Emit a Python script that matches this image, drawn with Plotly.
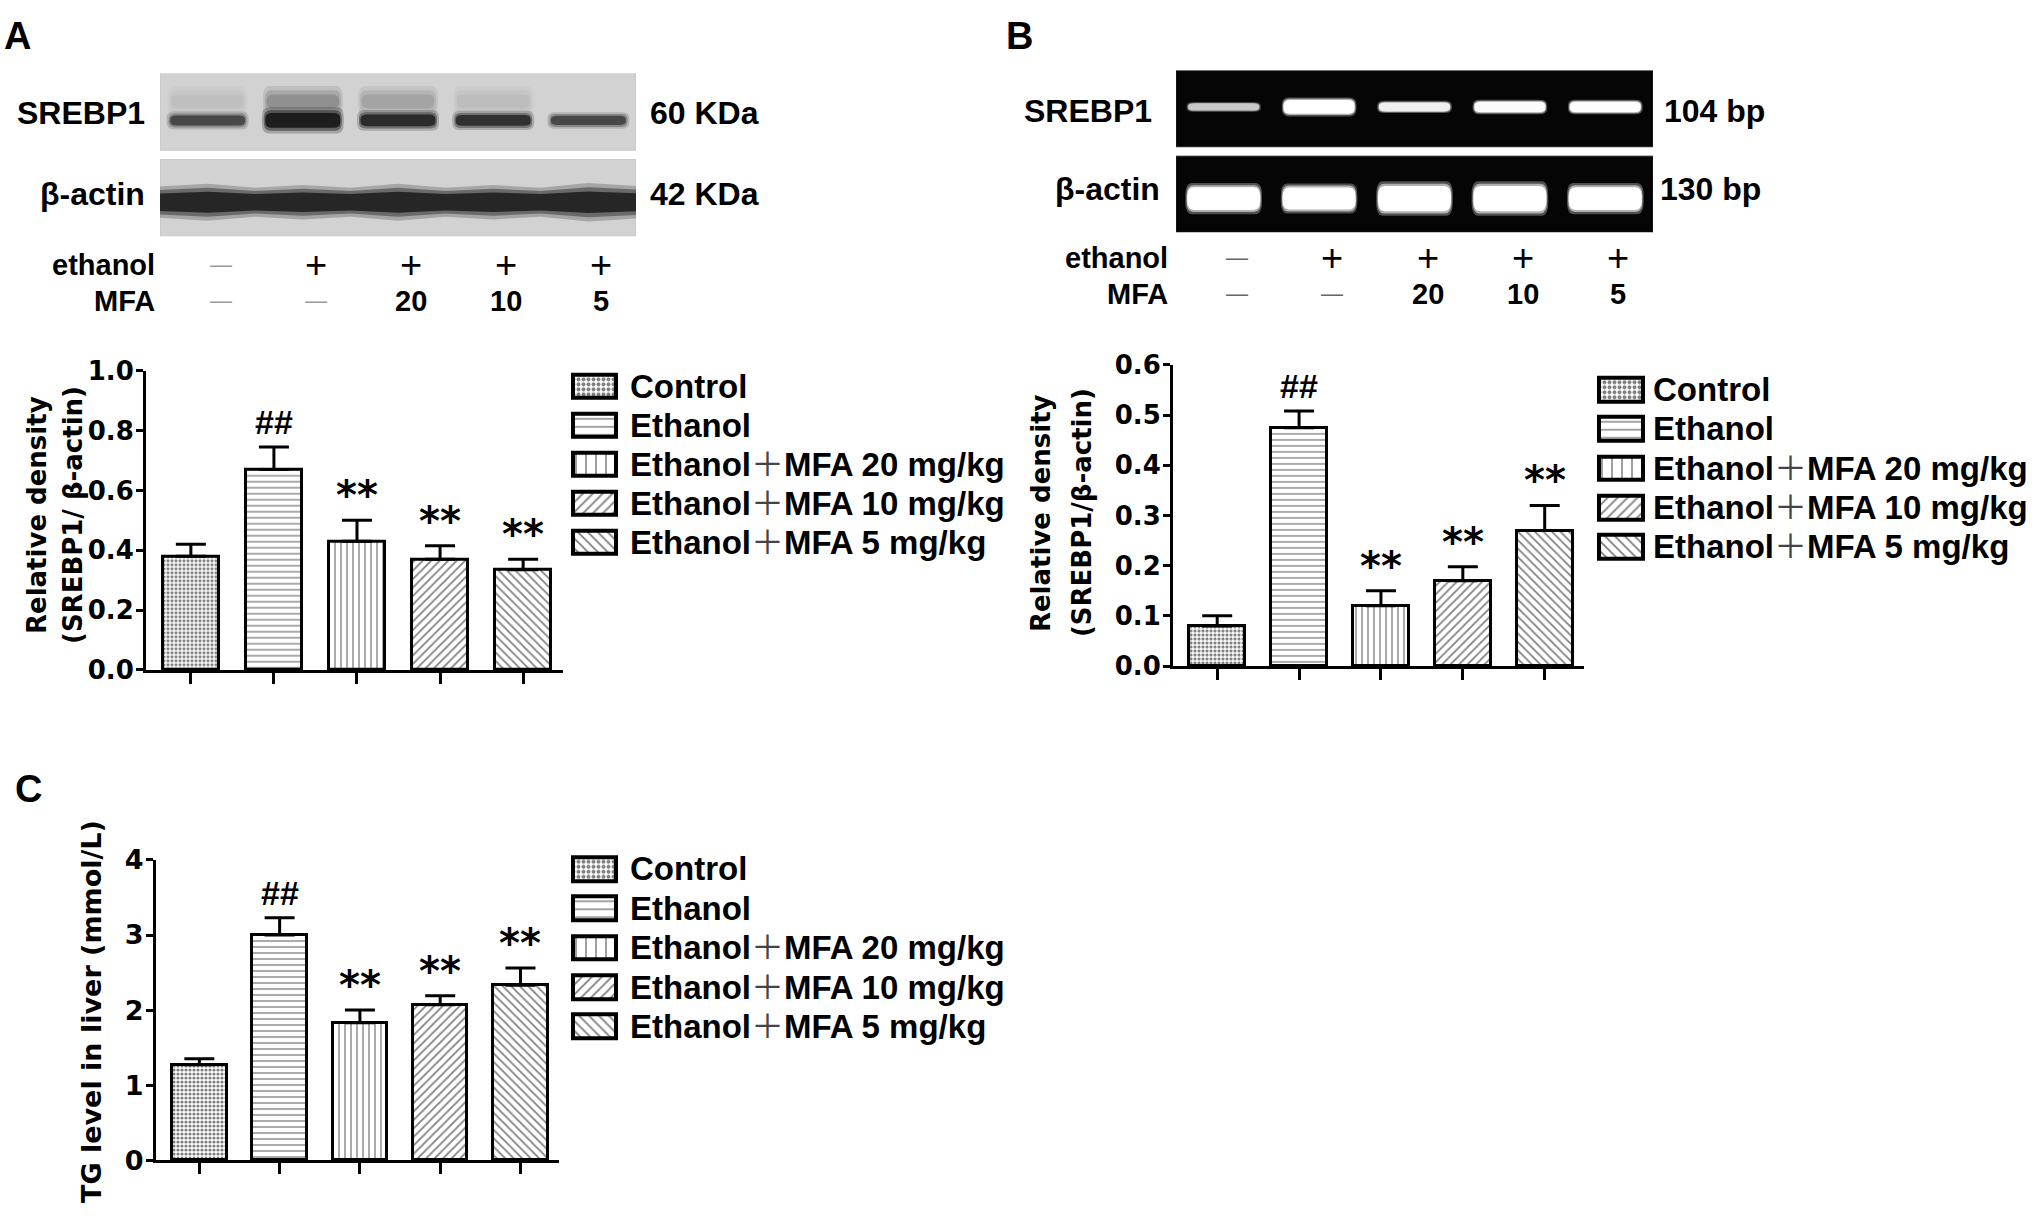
import plotly.graph_objects as go

W, H = 2034, 1220

# ---- data ----
lanes = [0, 1, 2, 3, 4]
groups = ["Control", "Ethanol", "Ethanol+MFA 20 mg/kg", "Ethanol+MFA 10 mg/kg", "Ethanol+MFA 5 mg/kg"]

a_mean = [0.38, 0.67, 0.43, 0.37, 0.335]
a_err = [0.04, 0.075, 0.07, 0.045, 0.035]
b_mean = [0.08, 0.475, 0.12, 0.17, 0.27]
b_err = [0.02, 0.033, 0.03, 0.028, 0.05]
c_mean = [1.27, 3.0, 1.83, 2.07, 2.33]
c_err = [0.08, 0.23, 0.17, 0.12, 0.23]
sig = ["", "##", "**", "**", "**"]

a_ticks = [0.0, 0.2, 0.4, 0.6, 0.8, 1.0]
b_ticks = [0.0, 0.1, 0.2, 0.3, 0.4, 0.5, 0.6]
c_ticks = [0, 1, 2, 3, 4]

ethanol_row = ["\u2014", "+", "+", "+", "+"]
mfa_row = ["\u2014", "\u2014", "20", "10", "5"]

# band strength / thickness per lane
wb_srebp1 = [0.62, 1.0, 0.85, 0.8, 0.62]
wb_srebp1_h = [0.13, 0.19, 0.15, 0.14, 0.12]
wb_srebp1_upper = [0.1, 0.45, 0.28, 0.12, 0.0]
wb_actin = [0.95, 0.95, 0.95, 0.95, 0.95]
wb_actin_h = [0.27, 0.25, 0.27, 0.25, 0.28]
gel_srebp1 = [0.6, 1.0, 0.85, 0.95, 0.97]
gel_srebp1_h = [0.09, 0.17, 0.11, 0.13, 0.13]
gel_actin = [1.0, 1.0, 1.0, 1.0, 1.0]
gel_actin_h = [0.28, 0.27, 0.31, 0.31, 0.28]

patterns = [".", "-", "|", "/", "\\"]
bar_pat_size = [4, 6, 6, 6, 6]
bar_pat_solid = [0.5, 0.22, 0.22, 0.28, 0.28]
leg_pat_size = [5, 8, 10, 7, 7]
leg_pat_solid = [0.5, 0.18, 0.15, 0.25, 0.25]

WIDE = "DejaVu Sans"
ARIAL = "Liberation Sans, Arial, sans-serif"


def px(x):
    return x / W


def py(y):
    return 1 - y / H


fig = go.Figure()

# ---- bar panels ----
panels = [
    # axis suffix, mean, err, ticks, tickformat, x px, y px, tick font size
    ("", a_mean, a_err, a_ticks, ".1f", (146, 563), (671, 364), 26),
    ("2", b_mean, b_err, b_ticks, ".1f", (1173, 1584), (667, 358), 26),
    ("3", c_mean, c_err, c_ticks, "d", (156, 559), (1174, 866), 27),
]

for suffix, mean, err, ticks, fmt, xd, yd, fs in panels:
    xa, ya = "x" + suffix, "y" + suffix
    fig.add_trace(go.Bar(
        x=lanes, y=mean, width=0.68, xaxis=xa, yaxis=ya, showlegend=False,
        marker=dict(color="white", line=dict(color="black", width=3),
                    pattern=dict(shape=patterns, size=bar_pat_size, solidity=bar_pat_solid,
                                 fgcolor="black", bgcolor="white")),
        error_y=dict(type="data", array=err, arrayminus=[0] * 5, symmetric=False,
                     color="black", thickness=3, width=15),
    ))
    fig.layout["xaxis" + suffix] = dict(
        domain=[px(xd[0]), px(xd[1])], range=[-0.54, 4.48], anchor=ya,
        showline=True, linewidth=3, linecolor="black", ticks="outside", ticklen=11,
        tickwidth=3, tickcolor="black", tickvals=lanes, showticklabels=False,
        showgrid=False, zeroline=False, fixedrange=True)
    fig.layout["yaxis" + suffix] = dict(
        domain=[py(yd[0]), py(yd[1])], range=[0, ticks[-1]], anchor=xa,
        showline=True, linewidth=3, linecolor="black", ticks="outside", ticklen=7,
        tickwidth=3, tickcolor="black", tickvals=ticks, tickformat=fmt,
        ticklabelstandoff=-3,
        tickfont=dict(family=WIDE, size=fs, color="black", weight="bold"),
        showgrid=False, zeroline=False, fixedrange=True)
    for i in lanes:
        if not sig[i]:
            continue
        hash_mark = sig[i] == "##"
        fig.add_annotation(
            x=i, y=mean[i] + err[i], xref=xa, yref=ya, text=sig[i], showarrow=False,
            yanchor="bottom", yshift=4 if hash_mark else 0,
            font=dict(family=ARIAL if hash_mark else WIDE, size=34 if hash_mark else 40,
                      color="black", weight="bold"))

# ---- legends (pattern swatches on their own axes) ----
legends = [
    ("4", (571, 618), (560, 360), 628),
    ("5", (1597, 1645), (565, 363), 1651),
    ("6", (571, 618), (1057, 855), 628),
]
for suffix, xd, yd, tx in legends:
    xa, ya = "x" + suffix, "y" + suffix
    fig.add_trace(go.Bar(
        x=[1] * 5, y=lanes, base=0, orientation="h", width=0.6, xaxis=xa, yaxis=ya,
        showlegend=False, hoverinfo="skip",
        marker=dict(color="white", line=dict(color="black", width=4),
                    pattern=dict(shape=patterns, size=leg_pat_size, solidity=leg_pat_solid,
                                 fgcolor="black", bgcolor="white")),
    ))
    fig.layout["xaxis" + suffix] = dict(domain=[px(xd[0]), px(xd[1])], range=[-0.05, 1.05],
                                        visible=False, fixedrange=True, anchor=ya)
    fig.layout["yaxis" + suffix] = dict(domain=[py(yd[0]), py(yd[1])], range=[4.5, -0.5],
                                        visible=False, fixedrange=True, anchor=xa)
    for i, g in enumerate(groups):
        label = g.replace("+", "<span style='font-weight:normal;color:#444'>\uff0b</span>")
        fig.add_annotation(x=px(tx), y=i, xref="paper", yref=ya, text=label, showarrow=False,
                           xanchor="left", yanchor="middle",
                           font=dict(family="Liberation Sans, Noto Sans CJK SC", size=33,
                                     color="black", weight="bold"))


# ---- blot / gel panels ----
def rrect(x0, x1, y0, y1, rx, ry):
    return (f"M{x0 + rx},{y0} L{x1 - rx},{y0} Q{x1},{y0} {x1},{y0 + ry} "
            f"L{x1},{y1 - ry} Q{x1},{y1} {x1 - rx},{y1} L{x0 + rx},{y1} "
            f"Q{x0},{y1} {x0},{y1 - ry} L{x0},{y0 + ry} Q{x0},{y0} {x0 + rx},{y0} Z")


def add_band(xr, yr, lane, yc, w, h, color, alpha, layers):
    for sw, sh, a in layers:
        bw, bh = w * sw, h * sh
        fig.add_shape(type="path", xref=xr, yref=yr, layer="above",
                      path=rrect(lane - bw / 2, lane + bw / 2, yc - bh / 2, yc + bh / 2, 0.07, bh * 0.4),
                      fillcolor=color, opacity=alpha * a, line_width=0)


def add_strip_band(xr, yr, yc, heights, color, alpha, layers):
    # one continuous band running through all lanes, thinner between lanes
    for _, sh, a in layers:
        top, bottom = [], []
        for i in lanes:
            h = heights[i] * sh
            if i == 0:
                top.append((-0.5, yc - h * 0.42))
            top.append((i, yc - h / 2))
            nxt = heights[i + 1] * sh if i < 4 else h
            top.append((i + 0.5, yc - min(h, nxt) * 0.42))
        for x, y in reversed(top):
            bottom.append((x, 2 * yc - y))
        pts = top + bottom
        path = "M" + " L".join(f"{x},{y}" for x, y in pts) + " Z"
        fig.add_shape(type="path", xref=xr, yref=yr, layer="above", path=path,
                      fillcolor=color, opacity=alpha * a, line_width=0)


soft_wb = ((1.05, 1.6, 0.25), (1.0, 1.25, 0.45), (0.96, 0.9, 0.9))
soft_smear = ((1.05, 1.8, 0.3), (1.0, 1.3, 0.4), (0.95, 0.8, 0.5))
soft_gel = ((1.03, 1.3, 0.3), (1.0, 1.12, 0.55), (0.98, 0.95, 1.0))

blots = [
    ("7", (160, 636), (226, 59), "#d2d2d2", "#c4c4c4"),
    ("8", (1176, 1653), (222, 56), "#050505", "#202020"),
]
for suffix, xd, yd, bg, edge in blots:
    xa, ya = "x" + suffix, "y" + suffix
    fig.layout["xaxis" + suffix] = dict(domain=[px(xd[0]), px(xd[1])], range=[-0.5, 4.5],
                                        visible=False, fixedrange=True, anchor=ya)
    fig.layout["yaxis" + suffix] = dict(domain=[py(yd[0]), py(yd[1])], range=[1.445, -0.445],
                                        visible=False, fixedrange=True, anchor=xa)
    for r in (0, 1):
        fig.add_shape(type="rect", xref=xa, yref=ya, layer="above", x0=-0.5, x1=4.5,
                      y0=r - 0.445, y1=r + 0.445, fillcolor=bg, line=dict(color=edge, width=1))

for i in lanes:
    add_band("x7", "y7", i, -0.12, 0.8, 0.2, "#404040", wb_srebp1_upper[i], soft_smear)
    add_band("x7", "y7", i, 0.1, 0.82, wb_srebp1_h[i], "#161616", wb_srebp1[i], soft_wb)
    add_band("x8", "y8", i, -0.02, 0.76, gel_srebp1_h[i], "#ffffff", gel_srebp1[i], soft_gel)
    add_band("x8", "y8", i, 1.05, 0.78, gel_actin_h[i], "#ffffff", gel_actin[i], soft_gel)
add_strip_band("x7", "y7", 1.05, wb_actin_h, "#1b1b1b", sum(wb_actin) / len(wb_actin), soft_wb)


def text(x, y, s, size, anchor="center", family=ARIAL, weight="bold", color="black",
         xref="paper", xshift=0, angle=0):
    fig.add_annotation(x=x, y=py(y), xref=xref, yref="paper", text=s, showarrow=False,
                       xanchor=anchor, yanchor="middle", xshift=xshift, textangle=angle,
                       font=dict(family=family, size=size, color=color, weight=weight))


# blot labels
text(px(147), 100, "SREBP1", 32, "right")
text(px(147), 183, "\u03b2-actin", 32, "right")
text(px(648), 100, "60 KDa", 32, "left")
text(px(648), 183, "42 KDa", 32, "left")
text(px(1154), 97, "SREBP1", 32, "right")
text(px(1162), 178, "\u03b2-actin", 32, "right")
text(px(1662), 97, "104 bp", 32, "left")
text(px(1658), 178, "130 bp", 32, "left")

for xa, y_eth, y_mfa, x_lab, dash_col in (("x7", 255, 292, 157, "#9a9a9a"), ("x8", 248, 285, 1170, "#666666")):
    text(px(x_lab), y_eth, "ethanol", 29, "right")
    text(px(x_lab), y_mfa, "MFA", 29, "right")
    for i in lanes:
        for y, s in ((y_eth, ethanol_row[i]), (y_mfa, mfa_row[i])):
            if s == "\u2014":
                text(i, y, s, 22, weight="normal", color=dash_col, xref=xa, xshift=13)
            elif s == "+":
                text(i, y, s, 38, weight="normal", xref=xa, xshift=13)
            else:
                text(i, y, s, 29, xref=xa, xshift=13)

# axis titles
for x, y, s, size in ((37, 512, "Relative density", 26),
                      (73, 512, "(SREBP1/ \u03b2-actin)", 26),
                      (1041, 510, "Relative density", 26),
                      (1082, 510, "(SREBP1/\u03b2-actin)", 26),
                      (91, 1022, "TG level in liver (mmol/L)", 27)):
    text(px(x), y, s, size, family=WIDE, angle=-90)

# panel letters
for x, y, s in ((17, 21, "A"), (1020, 21, "B"), (28, 793, "C")):
    text(px(x), y, s, 38)

fig.update_layout(width=W, height=H, margin=dict(l=0, r=0, t=0, b=0),
                  paper_bgcolor="white", plot_bgcolor="white", bargap=0,
                  font=dict(family=ARIAL, color="black"))

fig.write_html("out.html", config={"displayModeBar": False},
               post_script="document.body.style.margin='0';")
